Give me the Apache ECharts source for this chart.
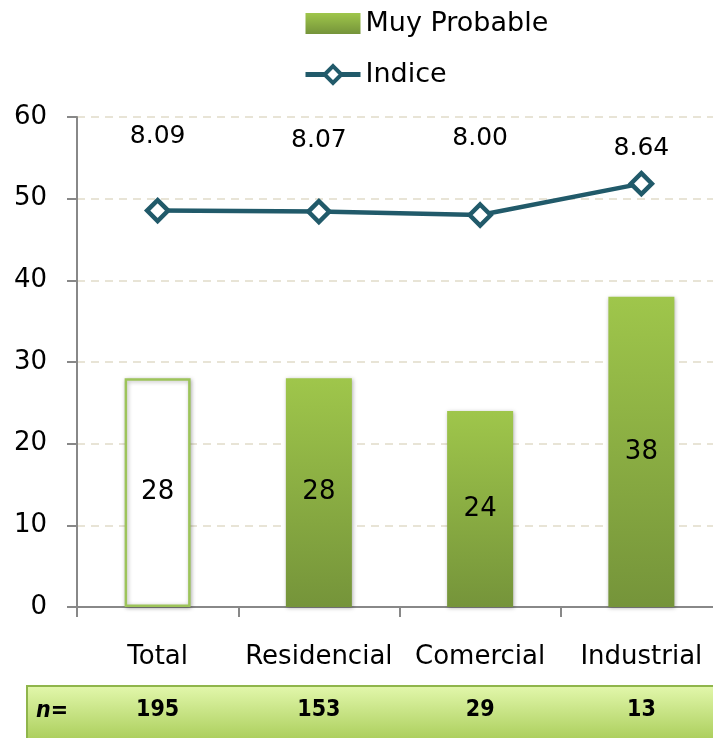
<!DOCTYPE html>
<html>
<head>
<meta charset="utf-8">
<script src="https://cdn.jsdelivr.net/npm/echarts@6/dist/echarts.min.js"></script>
<style>html,body{margin:0;padding:0;background:#fff}#c{width:713px;height:738px}</style>
</head>
<body>
<div id="c"></div>
<script>
const categories = ['Total', 'Residencial', 'Comercial', 'Industrial'];
const muyProbable = [28, 28, 24, 38];
const indice = [8.09, 8.07, 8.00, 8.64];
const nValues = [195, 153, 29, 13];
const yTicks = [0, 10, 20, 30, 40, 50, 60];

// styles
const indiceLabelGap = [49, 46, 51, 10];
const FONT = '"DejaVu Sans", sans-serif';
const NARROW = '"DejaVu Sans Condensed", "Liberation Sans Narrow", "Liberation Sans", sans-serif';
const barGrad = new echarts.graphic.LinearGradient(0, 0, 0, 1, [
  {offset: 0, color: '#9fc64b'}, {offset: 1, color: '#75943a'}
]);

const chart = echarts.init(document.getElementById('c'));
chart.setOption({
  animation: false,
  textStyle: {fontFamily: FONT},
  graphic: [
    {type: 'rect', z: -10, shape: {x: 27, y: 686, width: 700, height: 60},
     style: {fill: new echarts.graphic.LinearGradient(0, 0, 0, 1, [
       {offset: 0, color: '#e3f8ad'}, {offset: 1, color: '#a4c951'}]),
       stroke: '#8fb54b', lineWidth: 2}},
    {type: 'text', z: 10, left: 36, top: 700,
     style: {text: 'n=', font: 'italic bold 23px ' + NARROW, fill: '#000'}}
  ],
  legend: {
    orient: 'vertical', left: 298, top: 5,
    itemWidth: 55, itemHeight: 21, itemGap: 24,
    textStyle: {fontSize: 27, color: '#000', fontFamily: FONT},
    lineStyle: {width: 5},
    itemStyle: {borderWidth: 4},
    data: [{name: 'Muy Probable', icon: 'rect'}, {name: 'Indice'}]
  },
  grid: {left: 77, top: 117, width: 645, height: 490, outerBoundsMode: 'none'},
  xAxis: [
    {type: 'category', data: categories,
     axisLine: {lineStyle: {color: '#888', width: 2}},
     axisTick: {show: true, length: 10, lineStyle: {color: '#888', width: 2}},
     axisLabel: {fontSize: 26, color: '#000', margin: 37, interval: 0, fontFamily: FONT}},
    {type: 'category', data: nValues, position: 'bottom', offset: 92,
     axisLine: {show: false}, axisTick: {show: false},
     axisLabel: {fontSize: 23, fontWeight: 'bold', color: '#000', margin: 0, interval: 0, fontFamily: NARROW}}
  ],
  yAxis: [
    {type: 'value', min: yTicks[0], max: yTicks[yTicks.length - 1], interval: 10,
     axisLine: {show: true, lineStyle: {color: '#888', width: 2}},
     axisTick: {show: true, length: 10, lineStyle: {color: '#888', width: 2}},
     axisLabel: {fontSize: 26, color: '#000', margin: 30, fontFamily: FONT},
     splitLine: {show: true, lineStyle: {color: '#e8e4d6', width: 2, type: [8, 6]}}},
    {type: 'value', min: 0, max: 10, show: false}
  ],
  series: [
    {name: 'Muy Probable', type: 'bar', barWidth: 66,
     itemStyle: {color: barGrad, shadowBlur: 4, shadowColor: 'rgba(0,0,0,0.3)', shadowOffsetX: 1, shadowOffsetY: 1},
     label: {show: true, position: 'inside', fontSize: 26, color: '#000', fontFamily: FONT},
     data: muyProbable.map((v, i) => i === 0
       ? {value: v, itemStyle: {color: '#fff', borderColor: '#9dc45a', borderWidth: 2.5}}
       : v)},
    {name: 'Indice', type: 'line', yAxisIndex: 1,
     symbol: 'diamond', symbolSize: 21,
     lineStyle: {color: '#215a6a', width: 4.5},
     itemStyle: {color: '#fff', borderColor: '#215a6a', borderWidth: 4.5},
     label: {show: true, position: 'top', fontSize: 25, color: '#000', fontFamily: FONT,
       formatter: p => p.value.toFixed(2)},
     data: indice.map((v, i) => ({value: v, label: {distance: indiceLabelGap[i]}}))}
  ]
});
</script>
</body>
</html>
